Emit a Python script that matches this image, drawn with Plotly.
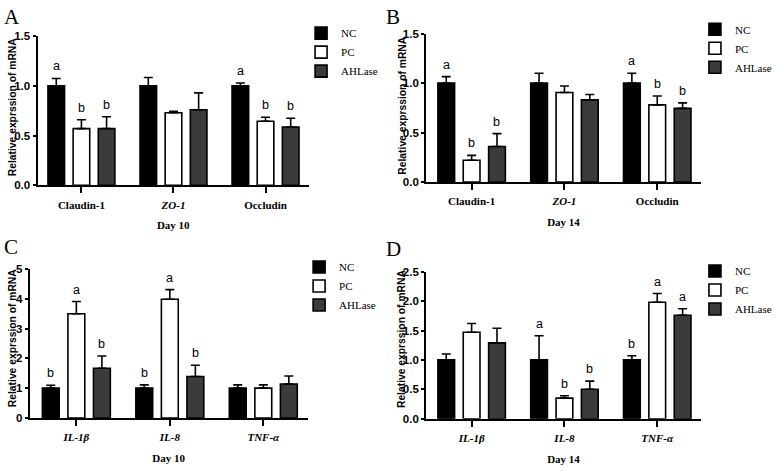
import plotly.graph_objects as go

W, H = 777, 471

# ---------------- data ----------------
groups = ["NC", "PC", "AHLase"]

tj_genes = ["Claudin-1", "ZO-1", "Occludin"]
tj_ticktext = ["Claudin-1", "<i>ZO-1</i>", "Occludin"]
inf_genes = ["IL-1β", "IL-8", "TNF-α"]
inf_ticktext = ["<i>IL-1β</i>", "<i>IL-8</i>", "<i>TNF-α</i>"]

# Panel A: tight junction genes, Day 10
a_nc = [1.00, 1.00, 1.00]
a_nc_err = [0.075, 0.085, 0.03]
a_pc = [0.57, 0.73, 0.645]
a_pc_err = [0.09, 0.015, 0.04]
a_ah = [0.57, 0.76, 0.585]
a_ah_err = [0.12, 0.17, 0.09]
a_letters = [["a", "", "a"], ["b", "", "b"], ["b", "", "b"]]

# Panel B: tight junction genes, Day 14
b_nc = [1.00, 1.00, 1.00]
b_nc_err = [0.065, 0.10, 0.10]
b_pc = [0.22, 0.905, 0.78]
b_pc_err = [0.05, 0.065, 0.09]
b_ah = [0.36, 0.83, 0.745]
b_ah_err = [0.13, 0.055, 0.055]
b_letters = [["a", "", "a"], ["b", "", "b"], ["b", "", "b"]]

# Panel C: inflammatory genes, Day 10
c_nc = [1.00, 1.00, 1.00]
c_nc_err = [0.10, 0.11, 0.11]
c_pc = [3.50, 3.99, 1.00]
c_pc_err = [0.41, 0.32, 0.11]
c_ah = [1.67, 1.39, 1.14]
c_ah_err = [0.41, 0.38, 0.27]
c_letters = [["b", "b", ""], ["a", "a", ""], ["b", "b", ""]]

# Panel D: inflammatory genes, Day 14
d_nc = [1.00, 1.00, 1.00]
d_nc_err = [0.10, 0.41, 0.07]
d_pc = [1.47, 0.35, 1.98]
d_pc_err = [0.15, 0.04, 0.15]
d_ah = [1.29, 0.50, 1.76]
d_ah_err = [0.25, 0.14, 0.11]
d_letters = [["", "a", "b"], ["", "b", "a"], ["", "b", "a"]]

y_title = "Relative exprssion of mRNA"

# ---------------- style ----------------
fill_colors = ["#000000", "#ffffff", "#3b3b3b"]
SANS = "Liberation Sans"
SERIF = "Liberation Serif"
BARGAP = 0.18
BARGROUPGAP = 0.34
slot = (1 - BARGAP) / 3

panels = [
    dict(tag="A", cats=tj_genes, ticktext=tj_ticktext, day="Day 10",
         vals=[a_nc, a_pc, a_ah], errs=[a_nc_err, a_pc_err, a_ah_err], letters=a_letters,
         yr=[0, 1.5], dtick=0.5, fmt=".1f",
         box=(38, 313, 184, 31), xr=[-0.477, 2.472],
         tagpos=(2, -3), leg=(305, 13), ytit=(13, 104)),
    dict(tag="B", cats=tj_genes, ticktext=tj_ticktext, day="Day 14",
         vals=[b_nc, b_pc, b_ah], errs=[b_nc_err, b_pc_err, b_ah_err], letters=b_letters,
         yr=[0, 1.5], dtick=0.5, fmt=".1f",
         box=(431.7, 710, 180.7, 28.3), xr=[-0.49, 2.47],
         tagpos=(389, -3), leg=(704, 9), ytit=(407.5, 102)),
    dict(tag="C", cats=inf_genes, ticktext=inf_ticktext, day="Day 10",
         vals=[c_nc, c_pc, c_ah], errs=[c_nc_err, c_pc_err, c_ah_err], letters=c_letters,
         yr=[0, 5], dtick=1, fmt="d",
         box=(30, 311.7, 422.7, 270), xr=[-0.5, 2.475],
         tagpos=(2, 233), leg=(303, 253), ytit=(12, 341)),
    dict(tag="D", cats=inf_genes, ticktext=inf_ticktext, day="Day 14",
         vals=[d_nc, d_pc, d_ah], errs=[d_nc_err, d_pc_err, d_ah_err], letters=d_letters,
         yr=[0, 2.5], dtick=0.5, fmt=".1f",
         box=(431.7, 710, 423.5, 272.7), xr=[-0.49, 2.47],
         tagpos=(389, 235), leg=(704, 257), ytit=(407, 342)),
]

fig = go.Figure()
layout = dict(
    width=W, height=H,
    margin=dict(l=0, r=0, t=0, b=0),
    paper_bgcolor="white", plot_bgcolor="white",
    barmode="group", bargap=BARGAP, bargroupgap=BARGROUPGAP,
    font=dict(family=SANS, color="black"),
)
annotations = []

for i, p in enumerate(panels):
    n = i + 1
    sfx = "" if n == 1 else str(n)
    xname, yname = "x" + sfx, "y" + sfx
    legname = "legend" + sfx
    x0, x1, yb, yt = p["box"]

    for g, grp in enumerate(groups):
        fig.add_trace(go.Bar(
            x=p["cats"], y=p["vals"][g], name=grp,
            xaxis=xname, yaxis=yname, legend=legname,
            marker=dict(color=fill_colors[g], line=dict(color="black", width=1.6)),
            error_y=dict(type="data", array=p["errs"][g], arrayminus=[0] * len(p["cats"]),
                         symmetric=False, color="black", thickness=1.6, width=4.5),
            showlegend=True, hoverinfo="skip",
        ))
        for k, lab in enumerate(p["letters"][g]):
            if lab:
                annotations.append(dict(
                    x=k + (g - 1) * slot, y=p["vals"][g][k] + p["errs"][g][k],
                    xref=xname, yref=yname, text=lab, showarrow=False,
                    xanchor="center", yanchor="bottom", yshift=3,
                    font=dict(family=SANS, size=12.5, color="#000000"),
                ))

    layout["xaxis" + sfx] = dict(
        domain=[x0 / W, x1 / W], anchor=yname,
        type="category", categoryorder="array", categoryarray=p["cats"],
        tickvals=p["cats"], ticktext=p["ticktext"],
        range=p["xr"], showline=True, linecolor="black", linewidth=2,
        ticks="outside", ticklen=6, tickwidth=2, tickcolor="black",
        ticklabelstandoff=2,
        tickfont=dict(family=SERIF, size=11, color="black", weight="bold"),
        showgrid=False, zeroline=False, fixedrange=True,
        title=dict(text=p["day"], standoff=12,
                   font=dict(family=SERIF, size=11, color="black", weight="bold")),
    )
    layout["yaxis" + sfx] = dict(
        domain=[1 - yb / H, 1 - yt / H], anchor=xname,
        range=p["yr"], dtick=p["dtick"], tick0=0, tickformat=p["fmt"],
        showline=True, linecolor="black", linewidth=2,
        ticks="outside", ticklen=3, tickwidth=2, tickcolor="black",
        tickfont=dict(family=SANS, size=11.5, color="black", weight="bold"),
        showgrid=False, zeroline=False, fixedrange=True,
    )
    lx, ly = p["leg"]
    layout[legname] = dict(
        x=lx / W, y=1 - ly / H, xanchor="left", yanchor="top",
        bgcolor="rgba(0,0,0,0)", borderwidth=0, traceorder="normal",
        font=dict(family=SERIF, size=11, color="black"),
        itemwidth=30,
    )
    tx, ty = p["tagpos"]
    annotations.append(dict(
        x=tx / W, y=1 - ty / H, xref="paper", yref="paper", text=p["tag"],
        showarrow=False, xanchor="left", yanchor="top",
        font=dict(family=SERIF, size=21, color="black"),
    ))
    yx, yy = p["ytit"]
    annotations.append(dict(
        x=yx / W, y=1 - yy / H, xref="paper", yref="paper", text=y_title,
        textangle=-90, showarrow=False, xanchor="center", yanchor="middle",
        font=dict(family=SANS, size=10.3, color="black", weight="bold"),
    ))

layout["annotations"] = annotations
fig.update_layout(**layout)
fig.write_html("out.html", config={"displayModeBar": False},
               post_script="document.body.style.margin='0';")
